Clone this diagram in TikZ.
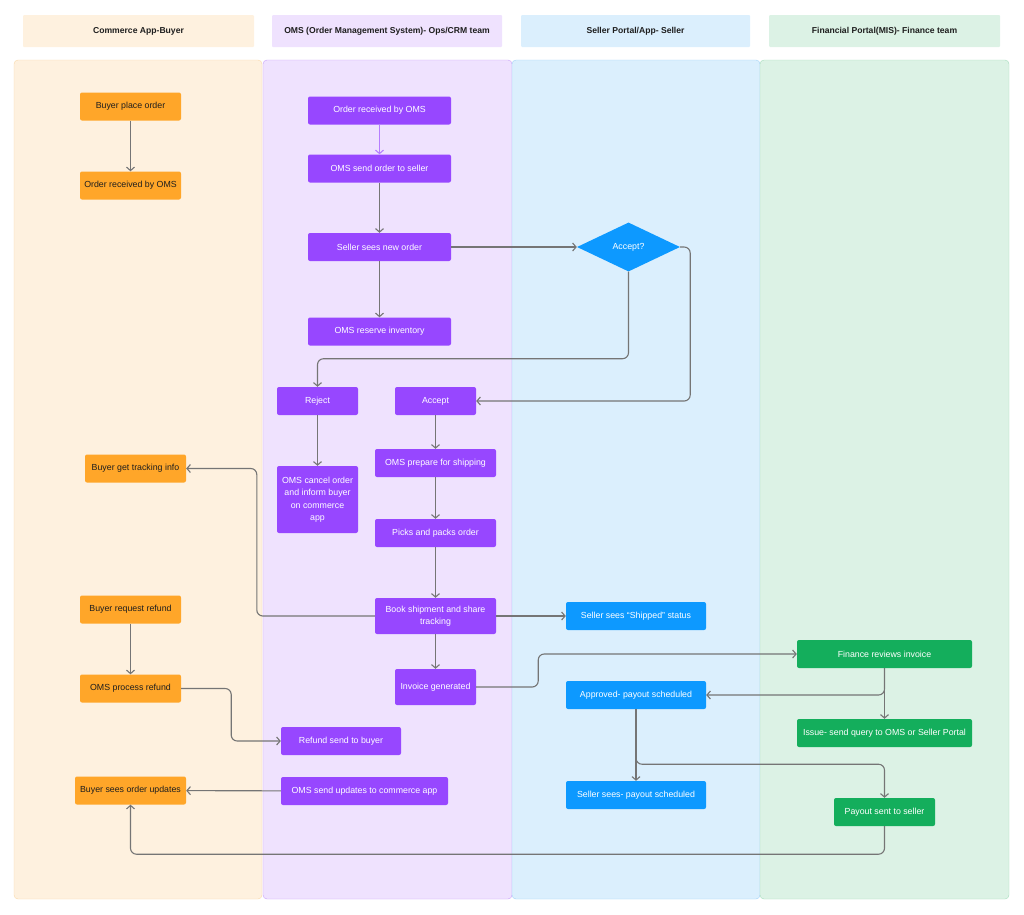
\documentclass[tikz,border=0pt]{standalone}
\usepackage{fontspec}
\setmainfont{Liberation Sans}
\usetikzlibrary{shapes.geometric,arrows.meta}
\definecolor{buyerbg}{HTML}{FEF1DF}
\definecolor{buyerline}{HTML}{F9D9A9}
\definecolor{omsbg}{HTML}{EFE2FE}
\definecolor{omsline}{HTML}{C8A2F9}
\definecolor{sellerbg}{HTML}{DBEFFD}
\definecolor{sellerline}{HTML}{A3D3F8}
\definecolor{financebg}{HTML}{DCF2E5}
\definecolor{financeline}{HTML}{A5DDBD}
\definecolor{buyerfill}{HTML}{FFA629}
\definecolor{omsfill}{HTML}{9747FF}
\definecolor{sellerfill}{HTML}{0D99FF}
\definecolor{financefill}{HTML}{14AE5C}
\definecolor{darktext}{HTML}{1E1E1E}
\definecolor{linegray}{HTML}{757575}
\begin{document}
\begin{tikzpicture}[x=1pt,y=-1pt,
  font=\fontsize{8.8}{12.5}\selectfont,
  box/.style={rectangle,rounded corners=2pt,minimum height=28pt,inner sep=2pt,align=center},
  buyer/.style={box,fill=buyerfill,text=darktext},
  oms/.style={box,fill=omsfill,text=white},
  seller/.style={box,fill=sellerfill,text=white},
  finance/.style={box,fill=financefill,text=white},
  header/.style={rectangle,rounded corners=1pt,minimum height=32pt,text=darktext,
    font=\fontsize{8.6}{12}\selectfont\bfseries},
  flow/.style={draw=linegray,line width=1.1pt,rounded corners=6pt,
    -{Straight Barb[length=3.5pt,width=8pt]}}]
\useasboundingbox (0,0) rectangle (1024,914);

% swimlanes
\fill[buyerbg,draw=buyerline,rounded corners=4pt] (14,60) rectangle (262,899);
\fill[omsbg,draw=omsline,rounded corners=4pt] (263,60) rectangle (512,899);
\fill[sellerbg,draw=sellerline,rounded corners=4pt] (512,60) rectangle (760,899);
\fill[financebg,draw=financeline,rounded corners=4pt] (760,60) rectangle (1009,899);

% lane titles
\node[header,fill=buyerbg,minimum width=231pt] (hbuyer) at (138.5,31) {Commerce App-Buyer};
\node[header,fill=omsbg,minimum width=230pt] (homs) at (387,31) {OMS (Order Management System)- Ops/CRM team};
\node[header,fill=sellerbg,minimum width=229pt] (hseller) at (635.5,31) {Seller Portal/App- Seller};
\node[header,fill=financebg,minimum width=231pt] (hfinance) at (884.5,31) {Financial Portal(MIS)- Finance team};

% buyer lane
\node[buyer,minimum width=101pt] (bplace) at (130.5,106.5) {Buyer place order};
\node[buyer,minimum width=101pt] (breceived) at (130.5,185.5) {Order received by OMS};
\node[buyer,minimum width=101pt] (btracking) at (135.5,468.5) {Buyer get tracking info};
\node[buyer,minimum width=101pt] (brefund) at (130.5,609.5) {Buyer request refund};
\node[buyer,minimum width=101pt] (bprocess) at (130.5,688.5) {OMS process refund};
\node[buyer,minimum width=111pt] (bupdates) at (130.5,790.5) {Buyer sees order updates};

% oms lane
\node[oms,minimum width=143pt] (oreceived) at (379.5,110.5) {Order received by OMS};
\node[oms,minimum width=143pt] (osend) at (379.5,168.5) {OMS send order to seller};
\node[oms,minimum width=143pt] (onew) at (379.5,247) {Seller sees new order};
\node[oms,minimum width=143pt] (oreserve) at (379.5,331.5) {OMS reserve inventory};
\node[oms,minimum width=81pt] (oreject) at (317.5,401) {Reject};
\node[oms,minimum width=81pt] (oaccept) at (435.5,401) {Accept};
\node[oms,minimum width=81pt,minimum height=67pt] (ocancel) at (317.5,499.5)
  {OMS cancel order\\and inform buyer\\on commerce\\app};
\node[oms,minimum width=121pt] (oprepare) at (435.5,463) {OMS prepare for shipping};
\node[oms,minimum width=121pt] (opicks) at (435.5,533) {Picks and packs order};
\node[oms,minimum width=121pt,minimum height=36pt] (obook) at (435.5,616)
  {Book shipment and share\\tracking};
\node[oms,minimum width=81pt,minimum height=36pt] (oinvoice) at (435.5,687) {Invoice generated};
\node[oms,minimum width=120pt] (orefund) at (341,741) {Refund send to buyer};
\node[oms,minimum width=167pt] (oupdates) at (364.5,791) {OMS send updates to commerce app};

% seller lane
\node[diamond,fill=sellerfill,text=white,inner sep=0pt,aspect=2,
  minimum width=103pt,minimum height=49pt] (squery) at (628.5,247) {Accept?};
\node[seller,minimum width=140pt] (sshipped) at (636,616) {Seller sees ``Shipped'' status};
\node[seller,minimum width=140pt] (sapproved) at (636,695) {Approved- payout scheduled};
\node[seller,minimum width=140pt] (spayout) at (636,795) {Seller sees- payout scheduled};

% finance lane
\node[finance,minimum width=175pt] (freview) at (884.5,654) {Finance reviews invoice};
\node[finance,minimum width=175pt] (fissue) at (884.5,733) {Issue- send query to OMS or Seller Portal};
\node[finance,minimum width=101pt] (fpayout) at (884.5,812) {Payout sent to seller};

% connectors
\draw[flow] (bplace) -- (breceived);
\draw[flow,draw=omsfill!70!white] (oreceived) -- (osend);
\draw[flow] (osend) -- (onew);
\draw[flow] (onew) -- (oreserve);
\draw[flow] (onew.east) -- (squery.west);
\draw[flow] (squery.south) -- ++(0,87) -| (oreject.north);
\draw[flow] (squery.east) -- ++(10,0) |- (oaccept.east);
\draw[flow] (oreject) -- (ocancel);
\draw[flow] (oaccept) -- (oprepare);
\draw[flow] (oprepare) -- (opicks);
\draw[flow] (opicks) -- (obook);
\draw[flow] (obook.west) -- ++(-118,0) |- (btracking.east);
\draw[flow] (obook.east) -- (sshipped.west);
\draw[flow] (obook) -- (oinvoice);
\draw[flow] (oinvoice.east) -- ++(62,0) |- (freview.west);
\draw[flow] (freview.south) |- (sapproved.east);
\draw[flow] (freview) -- (fissue);
\draw[flow] (sapproved) -- (spayout);
\draw[flow] (sapproved.south) -- ++(0,55) -| (fpayout.north);
\draw[flow] (fpayout.south) -- ++(0,28) -| (bupdates.south);
\draw[flow] (brefund) -- (bprocess);
\draw[flow] (bprocess.east) -- ++(50,0) |- (orefund.west);
\draw[flow] (oupdates) -- (bupdates);
\end{tikzpicture}
\end{document}
